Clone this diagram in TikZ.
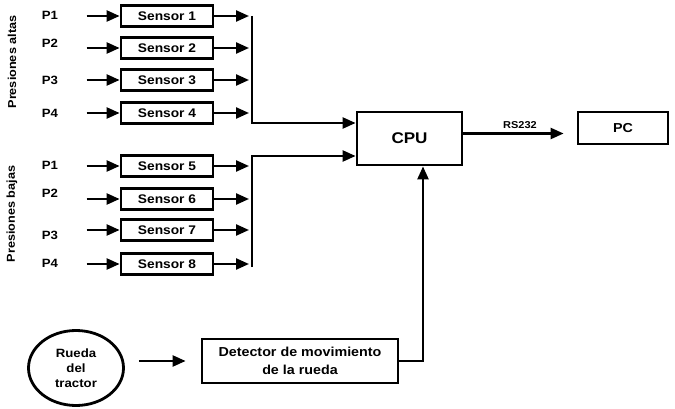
\documentclass[tikz,border=0pt]{standalone}
\usepackage{fontspec}
\setmainfont[FakeStretch=1.1]{Liberation Sans}
\usetikzlibrary{arrows.meta,positioning,shapes.geometric,calc}

\begin{document}
\begin{tikzpicture}[x=1pt,y=-1pt,
  box/.style={draw,line width=2.8pt,minimum width=#1,minimum height=21pt,inner sep=1pt,align=center,font=\bfseries\fontsize{12.5}{14}\selectfont},
  box/.default=92pt,
  lbl/.style={font=\bfseries\fontsize{12}{14}\selectfont},
  arr/.style={-{Triangle[length=13pt,width=11pt]},line width=2.4pt},
  bus/.style={line width=2.4pt}]
\useasboundingbox (0,0) rectangle (675,409);
% presiones altas
\node[box] (s1) at (167,16) {Sensor 1};
\node[box] (s2) at (167,48) {Sensor 2};
\node[box] (s3) at (167,80) {Sensor 3};
\node[box] (s4) at (167,113) {Sensor 4};
\node[lbl] (pa1) at (50,15) {P1};
\node[lbl] (pa2) at (50,43) {P2};
\node[lbl] (pa3) at (50,80) {P3};
\node[lbl] (pa4) at (50,113) {P4};
\node[lbl,rotate=90,font=\bfseries\fontsize{11.5}{13}\selectfont] (alt) at (12,62) {Presiones altas};
% presiones bajas
\node[box] (s5) at (167,166) {Sensor 5};
\node[box] (s6) at (167,199) {Sensor 6};
\node[box] (s7) at (167,230) {Sensor 7};
\node[box] (s8) at (167,264) {Sensor 8};
\node[lbl] (pb1) at (50,165) {P1};
\node[lbl] (pb2) at (50,193) {P2};
\node[lbl] (pb3) at (50,235) {P3};
\node[lbl] (pb4) at (50,263) {P4};
\node[lbl,rotate=90,font=\bfseries\fontsize{11.5}{13}\selectfont] (baj) at (12,214) {Presiones bajas};
% cpu, pc, rueda
\node[box=105pt,minimum height=53pt,font=\bfseries\fontsize{15.5}{17}\selectfont] (cpu) at (409.5,138.5) {CPU};
\node[box=90pt,minimum height=32pt,font=\bfseries\fontsize{13}{15}\selectfont] (pc) at (623,128) {PC};
\node[box=196pt,minimum height=44pt,font=\bfseries\fontsize{13}{18}\selectfont] (det) at (300,361) {Detector de movimiento\\de la rueda};
\node[draw,ellipse,line width=2.8pt,minimum width=95pt,minimum height=75pt,inner sep=0pt,align=center,font=\bfseries\fontsize{12}{15}\selectfont] (rue) at (76,368) {Rueda\\del\\tractor};
\coordinate (busA) at (252,123);
\coordinate (busB) at (252,156);
% entradas
\draw[arr,shorten <=25pt] (pa1.east |- s1.west) -- (s1.west);
\draw[arr,shorten <=25pt] (pa2.east |- s2.west) -- (s2.west);
\draw[arr,shorten <=25pt] (pa3.east |- s3.west) -- (s3.west);
\draw[arr,shorten <=25pt] (pa4.east |- s4.west) -- (s4.west);
\draw[arr,shorten <=25pt] (pb1.east |- s5.west) -- (s5.west);
\draw[arr,shorten <=25pt] (pb2.east |- s6.west) -- (s6.west);
\draw[arr,shorten <=25pt] (pb3.east |- s7.west) -- (s7.west);
\draw[arr,shorten <=25pt] (pb4.east |- s8.west) -- (s8.west);
% salidas
\draw[arr,shorten >=3pt] (s1.east) -- (s1.east -| busA); \draw[arr,shorten >=3pt] (s2.east) -- (s2.east -| busA);
\draw[arr,shorten >=3pt] (s3.east) -- (s3.east -| busA); \draw[arr,shorten >=3pt] (s4.east) -- (s4.east -| busA);
\draw[arr,shorten >=3pt] (s5.east) -- (s5.east -| busB); \draw[arr,shorten >=3pt] (s6.east) -- (s6.east -| busB);
\draw[arr,shorten >=3pt] (s7.east) -- (s7.east -| busB); \draw[arr,shorten >=3pt] (s8.east) -- (s8.east -| busB);
\draw[arr] (s1.east -| busA) -- (busA) -- (busA -| cpu.west);
\draw[arr] ([yshift=-3pt]s8.east -| busB) -- (busB) -- (busB -| cpu.west);
\draw[arr,shorten >=13pt] ([yshift=5pt]cpu.east) -- node[above,font=\bfseries\fontsize{10}{11}\selectfont] (rs) {RS232} ([yshift=5pt]cpu.east -| pc.west);
\draw[arr] (det.east) -| ([xshift=13.5pt]cpu.south);
\draw[arr,shorten <=14pt,shorten >=15pt] (rue.east |- det.west) -- (det.west);
\end{tikzpicture}
\end{document}
